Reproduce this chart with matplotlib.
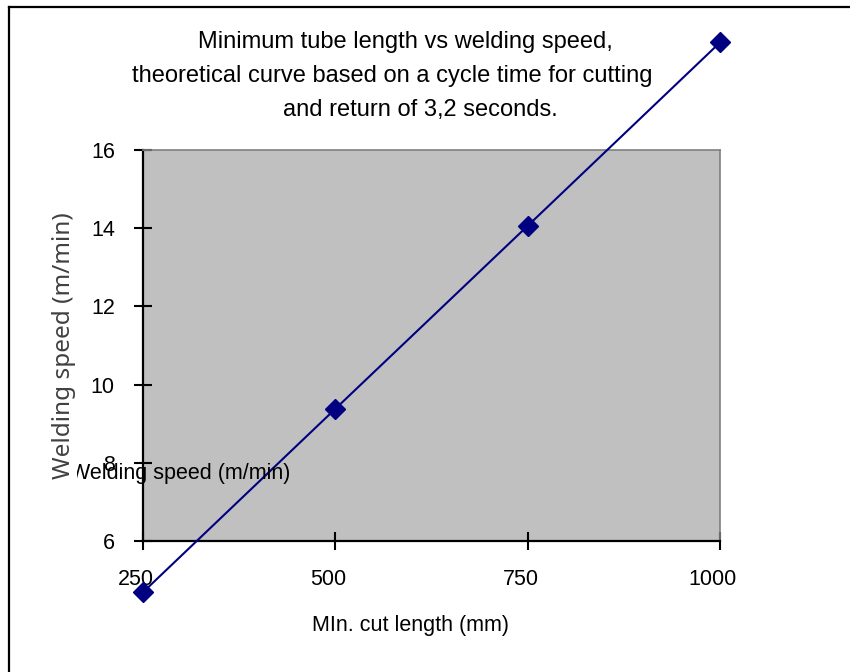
import matplotlib
matplotlib.use("Agg")
import matplotlib.pyplot as plt
from matplotlib.lines import Line2D
from matplotlib.transforms import ScaledTranslation

# Data
cut_length = [250, 500, 750, 1000]
welding_speed = [4.69, 9.38, 14.06, 18.75]
x_ticks = [250, 500, 750, 1000]
y_ticks = [6, 8, 10, 12, 14, 16]
title_lines = ["Minimum tube length vs welding speed,",
               "theoretical curve based on a cycle time for cutting",
               "and return of 3,2 seconds."]
x_label = "MIn. cut length (mm)"
y_label = "Welding speed (m/min)"

W, H = 850, 672
plt.rcParams['font.family'] = ['Liberation Sans', 'DejaVu Sans']
fig = plt.figure(figsize=(W / 100, H / 100), dpi=100)
fig.patch.set_facecolor('white')

def fx(px):
    return px / W

def fy(py):
    return 1 - py / H

# plot area
ax = fig.add_axes([fx(143), fy(541), fx(720) - fx(143), fy(150) - fy(541)])
ax.set_facecolor('#C0C0C0')
ax.set_xlim(250, 1000)
ax.set_ylim(6, 16)
ax.plot(cut_length, welding_speed, color='#000080', lw=1.5, marker='D',
        markersize=10, clip_on=False, zorder=5)

ax.set_xticks(x_ticks)
ax.set_yticks(y_ticks)
ax.set_xticklabels([str(v) for v in x_ticks])
ax.set_yticklabels([str(v) for v in y_ticks])
ax.tick_params(direction='inout', length=12.5, width=1.5, color='black',
               labelsize=15.5, labelcolor='black')
ax.tick_params(axis='y', pad=14)
ax.tick_params(axis='x', pad=14)
offset = ScaledTranslation(-7 / 100, 0, fig.dpi_scale_trans)
for lab in ax.get_xticklabels():
    lab.set_transform(lab.get_transform() + offset)

for s in ['top', 'right']:
    ax.spines[s].set_color('#808080')
    ax.spines[s].set_linewidth(1.2)
for s in ['left', 'bottom']:
    ax.spines[s].set_color('black')
    ax.spines[s].set_linewidth(1.6)

# title lines
fig.text(fx(405), fy(48), title_lines[0], ha='center', va='baseline', fontsize=17)
fig.text(fx(392), fy(82), title_lines[1], ha='center', va='baseline', fontsize=17)
fig.text(fx(420), fy(116), title_lines[2], ha='center', va='baseline', fontsize=17)

# x label
fig.text(fx(410), fy(631), x_label, ha='center', va='baseline', fontsize=15.5)

# horizontal stray label
fig.text(fx(180), fy(479), y_label, ha='center', va='baseline', fontsize=15.5, zorder=3)

# rotated y label with white background
fig.text(fx(64), fy(346), y_label, ha='center', va='center', rotation=90,
         fontsize=17.5, color='#404040', family=['Noto Sans', 'DejaVu Sans'], zorder=4,
         bbox=dict(facecolor='white', edgecolor='none', pad=1))

# chart frame
fig.add_artist(Line2D([fx(8.5), fx(850)], [fy(6.5), fy(6.5)], color='black', lw=1.6,
                      transform=fig.transFigure))
fig.add_artist(Line2D([fx(8.5), fx(8.5)], [fy(6.5), fy(672)], color='black', lw=1.6,
                      transform=fig.transFigure))

fig.savefig('out.png', dpi=100, facecolor='white')
